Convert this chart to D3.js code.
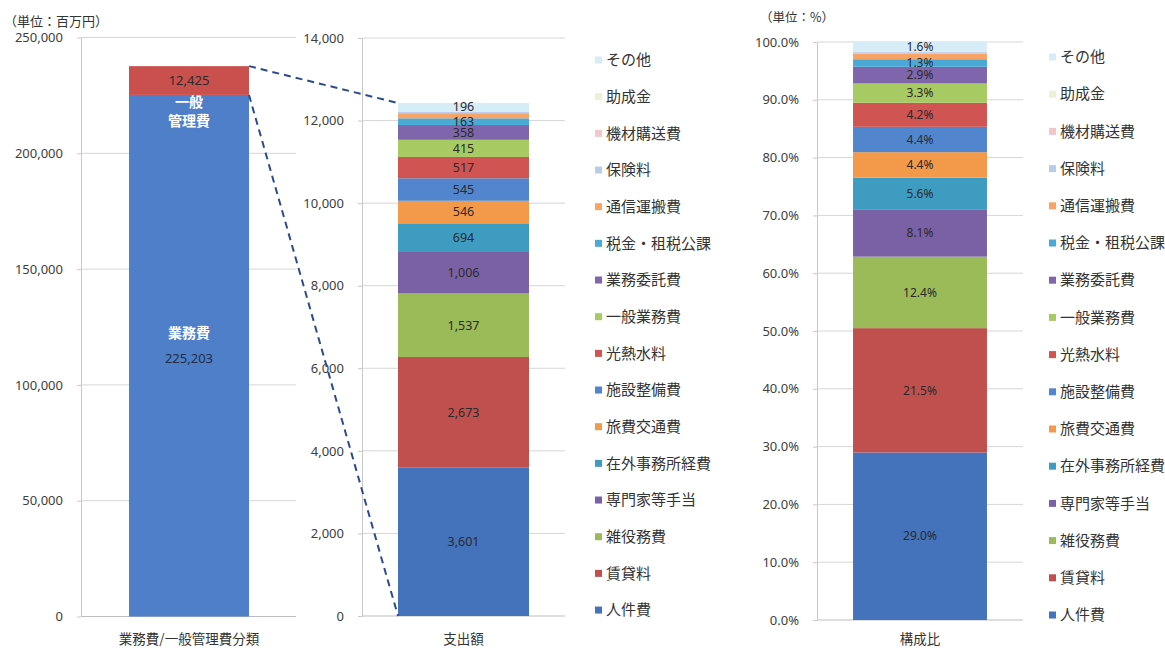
<!DOCTYPE html>
<html lang="ja">
<head>
<meta charset="utf-8">
<script src="https://cdn.jsdelivr.net/npm/d3@7"></script>
<style>
  html, body { margin: 0; padding: 0; background: #fff; }
  svg { display: block; font-family: "Noto Sans CJK JP", "Noto Sans", sans-serif; }
  .tick text { fill: #404040; font-family: "Noto Sans", "Noto Sans CJK JP", sans-serif; font-size: 13px; }
</style>
</head>
<body>
<svg id="chart" width="1165" height="650"></svg>
<script>
// 業務費 / 一般管理費 の内訳（単位：百万円）
const splitCategories = ["業務費", "一般管理費"];
const splitValues = [225203, 12425];

// 一般管理費の支出内訳（下から積み上げ順）
const expenseCategories = [
  "人件費", "賃貸料", "雑役務費", "専門家等手当", "在外事務所経費", "旅費交通費",
  "施設整備費", "光熱水料", "一般業務費", "業務委託費", "税金・租税公課",
  "通信運搬費", "保険料", "機材購送費", "助成金", "その他"
];
const expenseValues = [3601, 2673, 1537, 1006, 694, 546, 545, 517, 415, 358, 163, 124, 28, 14, 8, 196];
// 値ラベルを表示する項目
const expenseLabelled = [true, true, true, true, true, true, true, true, true, true, true, false, false, false, false, true];

// 軸目盛
const splitTicks = [0, 50000, 100000, 150000, 200000, 250000];
const expenseTicks = [0, 2000, 4000, 6000, 8000, 10000, 12000, 14000];
const shareTicks = [0, 0.1, 0.2, 0.3, 0.4, 0.5, 0.6, 0.7, 0.8, 0.9, 1.0];

// 系列色
const splitColors = ["#4F7FC9", "#C9504C"];
const expenseColors = [
  "#4473BC", "#C0504D", "#9BBB59", "#7A61A6", "#3E9CC1", "#F2994A",
  "#5186CF", "#CF5452", "#A7CA62", "#7F66AC", "#4AAAD6",
  "#F7A466", "#B9CDEB", "#F3C6CA", "#EAF2D6", "#D6ECF7"
];

const svg = d3.select("#chart");
const fmtInt = d3.format(",");
const fmtPct = d3.format(".1%");

const expenseTotal = d3.sum(expenseValues);

function gridAndAxis(g, y, ticks, x0, x1, fmt) {
  g.append("g")
    .selectAll("line")
    .data(ticks)
    .join("line")
    .attr("x1", x0).attr("x2", x1)
    .attr("y1", d => y(d)).attr("y2", d => y(d))
    .attr("stroke", d => d === 0 ? "#bdbdbd" : "#d6d6d6")
    .attr("stroke-width", 1);
  const ax = g.append("g")
    .attr("transform", `translate(${x0},0)`)
    .call(d3.axisLeft(y).tickValues(ticks).tickFormat(fmt).tickSize(4).tickSizeOuter(0).tickPadding(14));
  ax.select(".domain").attr("stroke", "#c8c8c8");
  ax.selectAll(".tick line").attr("stroke", "#c8c8c8");
  return ax;
}

// ---------- 左：業務費 / 一般管理費 ----------
const yLeft = d3.scaleLinear().domain([0, 250000]).range([616.5, 37.5]);
const xLeft = d3.scaleBand().domain(["業務費/一般管理費分類"]).range([81, 297]).paddingInner(0.2857).paddingOuter(0.2857);
const gL = svg.append("g");
gridAndAxis(gL, yLeft, splitTicks, 81, 296, fmtInt);

const splitStack = [];
{
  let acc = 0;
  splitValues.forEach((v, i) => { splitStack.push({ name: splitCategories[i], y0: acc, y1: acc + v, v, c: splitColors[i] }); acc += v; });
}
const leftX = xLeft("業務費/一般管理費分類");
const leftW = xLeft.bandwidth();
gL.selectAll("rect.seg")
  .data(splitStack)
  .join("rect")
  .attr("class", "seg")
  .attr("x", leftX).attr("width", leftW)
  .attr("y", d => yLeft(d.y1))
  .attr("height", d => yLeft(d.y0) - yLeft(d.y1))
  .attr("fill", d => d.c);

const leftCx = leftX + leftW / 2;
// 業務費
{
  const d = splitStack[0];
  const cy = (yLeft(d.y0) + yLeft(d.y1)) / 2;
  gL.append("text").attr("x", leftCx).attr("y", cy - 23).attr("text-anchor", "middle").attr("dy", "0.35em")
    .attr("fill", "#fff").attr("font-weight", "bold").attr("font-size", 14).text("業務費");
  gL.append("text").attr("x", leftCx).attr("y", cy + 3).attr("text-anchor", "middle").attr("dy", "0.35em")
    .attr("fill", "#1f2d44").attr("font-size", 13).attr("font-family", "Noto Sans, sans-serif").text(fmtInt(d.v));
  // 一般管理費の見出し（境界の直下）
  const top = yLeft(d.y1);
  gL.append("text").attr("x", leftCx).attr("y", top + 7).attr("text-anchor", "middle").attr("dy", "0.35em")
    .attr("fill", "#fff").attr("font-weight", "bold").attr("font-size", 14).text("一般");
  gL.append("text").attr("x", leftCx).attr("y", top + 26).attr("text-anchor", "middle").attr("dy", "0.35em")
    .attr("fill", "#fff").attr("font-weight", "bold").attr("font-size", 14).text("管理費");
}
{
  const d = splitStack[1];
  const cy = (yLeft(d.y0) + yLeft(d.y1)) / 2;
  gL.append("text").attr("x", leftCx).attr("y", cy).attr("text-anchor", "middle").attr("dy", "0.35em")
    .attr("fill", "#2b2b2b").attr("font-size", 13).attr("font-family", "Noto Sans, sans-serif").text(fmtInt(d.v));
}
gL.append("text").attr("x", leftCx).attr("y", 639).attr("text-anchor", "middle").attr("dy", "0.35em")
  .attr("fill", "#333").attr("font-size", 13.5).text("業務費/一般管理費分類");
svg.append("text").attr("x", 4).attr("y", 21).attr("dy", "0.35em")
  .attr("fill", "#333").attr("font-size", 13).text("（単位：百万円）");

// ---------- 中：支出額 ----------
const yMid = d3.scaleLinear().domain([0, 14000]).range([616, 38]);
const xMid = d3.scaleBand().domain(["支出額"]).range([362, 565]).paddingInner(0.2156).paddingOuter(0.2156);
const gM = svg.append("g");
gridAndAxis(gM, yMid, expenseTicks, 362, 565, fmtInt);

const expenseStack = [];
{
  let acc = 0;
  expenseValues.forEach((v, i) => {
    expenseStack.push({ name: expenseCategories[i], y0: acc, y1: acc + v, v, c: expenseColors[i], lab: expenseLabelled[i] });
    acc += v;
  });
}
const midX = xMid("支出額");
const midW = xMid.bandwidth();
gM.selectAll("rect.seg")
  .data(expenseStack)
  .join("rect")
  .attr("class", "seg")
  .attr("x", midX).attr("width", midW)
  .attr("y", d => yMid(d.y1))
  .attr("height", d => yMid(d.y0) - yMid(d.y1))
  .attr("fill", d => d.c);
gM.selectAll("text.val")
  .data(expenseStack.filter(d => d.lab))
  .join("text")
  .attr("class", "val")
  .attr("x", midX + midW / 2)
  .attr("y", d => (yMid(d.y0) + yMid(d.y1)) / 2)
  .attr("dy", "0.35em")
  .attr("text-anchor", "middle")
  .attr("fill", "#2a2a2a")
  .attr("font-size", 12.5)
  .attr("font-family", "Noto Sans, sans-serif")
  .text(d => fmtInt(d.v));
gM.append("text").attr("x", midX + midW / 2).attr("y", 639).attr("text-anchor", "middle").attr("dy", "0.35em")
  .attr("fill", "#333").attr("font-size", 13.5).text("支出額");

// 左の一般管理費から中の内訳へ伸びる破線
const leftRight = leftX + leftW;
const connectors = [
  { x1: leftRight, y1: yLeft(splitStack[1].y1), x2: midX, y2: yMid(expenseTotal) },
  { x1: leftRight, y1: yLeft(splitStack[1].y0), x2: midX, y2: yMid(0) }
];
svg.append("g").selectAll("line")
  .data(connectors)
  .join("line")
  .attr("x1", d => d.x1).attr("y1", d => d.y1)
  .attr("x2", d => d.x2).attr("y2", d => d.y2)
  .attr("stroke", "#2C4A8E")
  .attr("stroke-width", 2)
  .attr("stroke-dasharray", "7,5");

// ---------- 右：構成比 ----------
const yRight = d3.scaleLinear().domain([0, 1]).range([620, 42]);
const xRight = d3.scaleBand().domain(["構成比"]).range([817, 1023]).paddingInner(0.212).paddingOuter(0.212);
const gR = svg.append("g");
gridAndAxis(gR, yRight, shareTicks, 817, 1023, fmtPct);

const shareStack = expenseStack.map(d => ({ ...d, s0: d.y0 / expenseTotal, s1: d.y1 / expenseTotal, s: d.v / expenseTotal }));
const rX = xRight("構成比");
const rW = xRight.bandwidth();
gR.selectAll("rect.seg")
  .data(shareStack)
  .join("rect")
  .attr("class", "seg")
  .attr("x", rX).attr("width", rW)
  .attr("y", d => yRight(d.s1))
  .attr("height", d => yRight(d.s0) - yRight(d.s1))
  .attr("fill", d => d.c);
gR.selectAll("text.val")
  .data(shareStack.filter(d => d.lab))
  .join("text")
  .attr("class", "val")
  .attr("x", rX + rW / 2)
  .attr("y", d => (yRight(d.s0) + yRight(d.s1)) / 2)
  .attr("dy", "0.35em")
  .attr("text-anchor", "middle")
  .attr("fill", "#2a2a2a")
  .attr("font-size", 12)
  .attr("font-family", "Noto Sans, sans-serif")
  .text(d => fmtPct(d.s));
gR.append("text").attr("x", rX + rW / 2).attr("y", 639).attr("text-anchor", "middle").attr("dy", "0.35em")
  .attr("fill", "#333").attr("font-size", 13.5).text("構成比");
svg.append("text").attr("x", 760).attr("y", 18).attr("dy", "0.35em")
  .attr("fill", "#333").attr("font-size", 12.5).text("（単位：%）");

// ---------- 凡例（上から「その他」→「人件費」） ----------
const legendItems = expenseStack.slice().reverse();
function legend(x, y0, step) {
  const g = svg.append("g");
  const row = g.selectAll("g")
    .data(legendItems)
    .join("g")
    .attr("transform", (d, i) => `translate(${x},${y0 + i * step})`);
  row.append("rect").attr("x", 0).attr("y", -3.5).attr("width", 7).attr("height", 7).attr("fill", d => d.c);
  row.append("text").attr("x", 11).attr("dy", "0.35em").attr("fill", "#333").attr("font-size", 15).text(d => d.name);
}
legend(595, 60, 36.67);
legend(1049, 57, 37.2);
</script>
</body>
</html>
